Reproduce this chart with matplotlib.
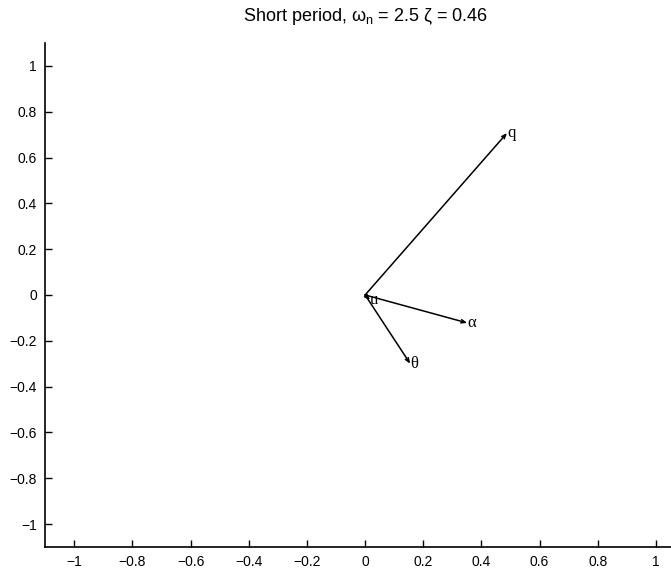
import numpy as np
import matplotlib.pyplot as plt

# VECTOR COMPONENTS (real, imaginary) OF THE SHORT PERIOD MODE
names = ["q", "\u03b1", "\u03b8", "u"]
re_part = [0.488, 0.351, 0.155, 0.017]
im_part = [0.707, -0.122, -0.300, -0.022]

ticks = [-1, -0.8, -0.6, -0.4, -0.2, 0, 0.2, 0.4, 0.6, 0.8, 1]
tick_labels = ["\u22121", "\u22120.8", "\u22120.6", "\u22120.4", "\u22120.2", "0",
               "0.2", "0.4", "0.6", "0.8", "1"]

plt.rcParams["font.family"] = ["Liberation Sans", "DejaVu Sans"]
plt.rcParams["mathtext.fontset"] = "custom"
plt.rcParams["mathtext.rm"] = "Liberation Sans"
plt.rcParams["mathtext.it"] = "Liberation Sans"
plt.rcParams["mathtext.sf"] = "Liberation Sans"

fig = plt.figure(figsize=(6.71, 5.69), dpi=100)
ax = fig.add_axes([0.0674, 0.0387, 0.9535, 0.8858])

# DRAW THE VECTORS
for name, x, y in zip(names, re_part, im_part):
    ax.annotate("", xy=(x, y), xytext=(0, 0),
                arrowprops=dict(arrowstyle="->,head_length=0.3,head_width=0.12",
                                color="black", lw=1.1, shrinkA=0, shrinkB=0))
    ax.text(x, y, name, fontsize=12, ha="left", va="center",
            family=["Liberation Serif", "DejaVu Serif"])

# MAKE IT LOOK LIKE THE ORIGINAL
ax.set_xlim(-1.1, 1.1)
ax.set_ylim(-1.1, 1.1)
ax.set_xticks(ticks)
ax.set_xticklabels(tick_labels)
ax.set_yticks(ticks)
ax.set_yticklabels(tick_labels)
ax.tick_params(direction="in", length=5, width=1, labelsize=10, pad=6)
ax.spines["top"].set_visible(False)
ax.spines["right"].set_visible(False)
ax.spines["left"].set_linewidth(1.2)
ax.spines["bottom"].set_linewidth(1.2)
ax.set_title("Short period, $\\mathrm{\u03c9_n}$ = 2.5 \u03b6 = 0.46", fontsize=13, pad=16)

fig.savefig("out.png", dpi=100)
